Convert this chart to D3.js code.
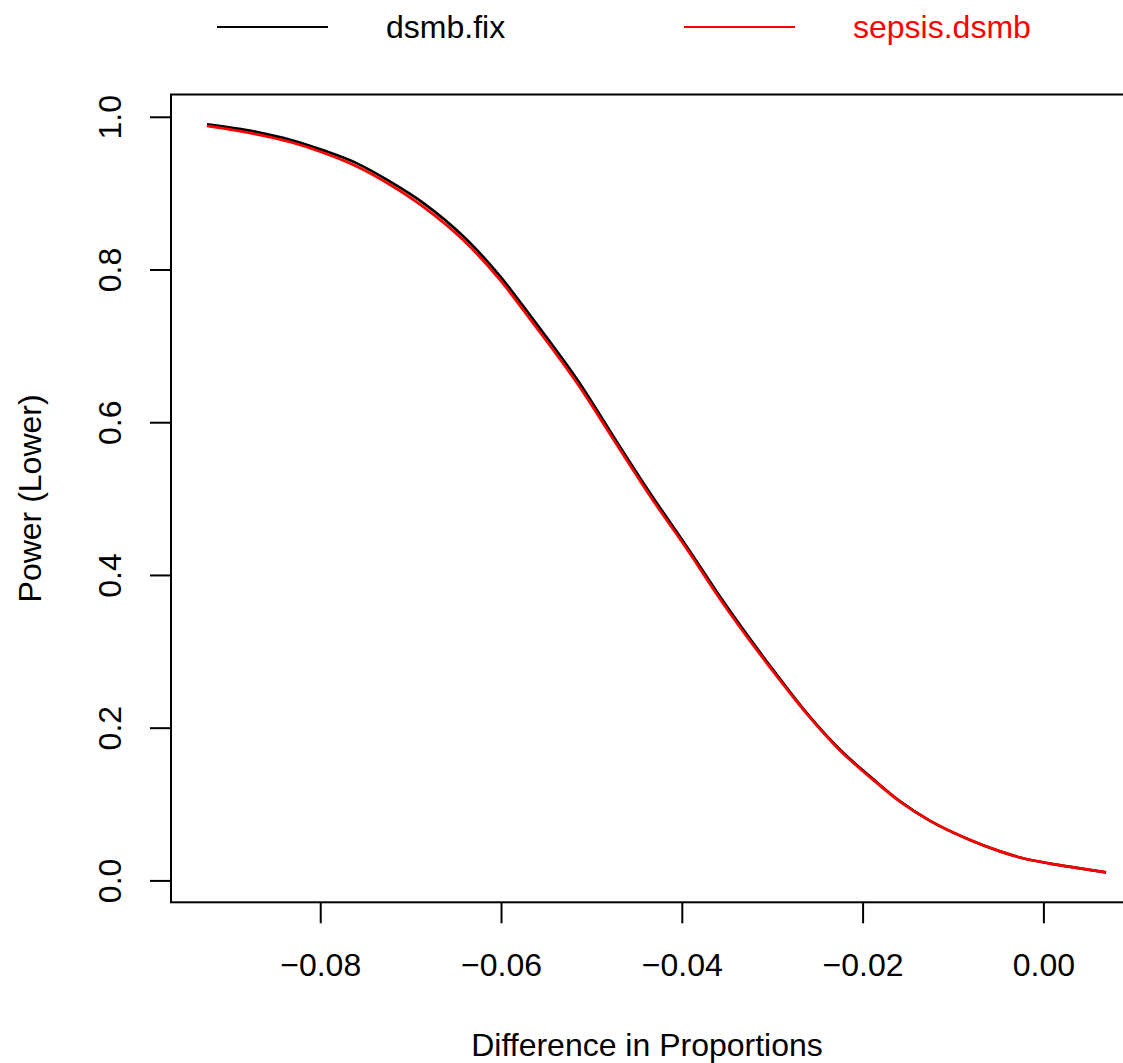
<!DOCTYPE html>
<html lang="en">
<head>
<meta charset="utf-8">
<title>Power (Lower) vs difference in proportions</title>
<script src="https://cdn.jsdelivr.net/npm/d3@7"></script>
<style>
  body { margin: 0; background: #fff; }
  text { font-family: "Liberation Sans", Arial, sans-serif; }
</style>
</head>
<body>
<script>
// values
var diffs = [-0.09253, -0.08700, -0.08332, -0.07964, -0.07594, -0.07226, -0.06858,
             -0.06378, -0.06009, -0.05641, -0.05124, -0.04760, -0.04350, -0.03950,
             -0.03557, -0.02986, -0.02617, -0.02249, -0.01887, -0.01585, -0.01253,
             -0.00811, -0.00479, -0.00258, 0.00074, 0.00406, 0.00693];
var powerFix = [0.990, 0.980, 0.970, 0.956, 0.939, 0.915, 0.887,
                0.839, 0.791, 0.734, 0.650, 0.582, 0.507, 0.438,
                0.368, 0.275, 0.219, 0.171, 0.133, 0.1035, 0.078,
                0.053, 0.038, 0.030, 0.022, 0.0157, 0.0105];
var powerSepsis = [0.988, 0.977, 0.967, 0.953, 0.935, 0.911, 0.882,
                   0.834, 0.786, 0.729, 0.645, 0.578, 0.503, 0.435,
                   0.365, 0.273, 0.218, 0.170, 0.132, 0.103, 0.078,
                   0.053, 0.038, 0.030, 0.022, 0.0157, 0.0105];
var seriesNames = ["dsmb.fix", "sepsis.dsmb"];
var seriesColors = ["#000000", "#ff0000"];
var xTicks = [-0.08, -0.06, -0.04, -0.02, 0.00];
var yTicks = [0.0, 0.2, 0.4, 0.6, 0.8, 1.0];

var W = 1123, H = 1063;
var plotLeft = 171, plotRight = 1142, plotTop = 94.5, plotBottom = 902.3;
var fs = 32;

var svg = d3.select("body").append("svg").attr("width", W).attr("height", H);

// R-style 4% padding around the data range
var xr = d3.extent(diffs), yr = [0.0105, 0.990];
var xpad = (xr[1] - xr[0]) * 0.04, ypad = (yr[1] - yr[0]) * 0.04;
var x = d3.scaleLinear().domain([xr[0] - xpad, xr[1] + xpad]).range([plotLeft, plotRight]);
var y = d3.scaleLinear().domain([yr[0] - ypad, yr[1] + ypad]).range([plotBottom, plotTop]);

// curves
var line = d3.line()
  .x(function(d) { return x(d[0]); })
  .y(function(d) { return y(d[1]); })
  .curve(d3.curveMonotoneX);

var series = [powerFix, powerSepsis];
series.forEach(function(vals, i) {
  svg.append("path")
    .datum(diffs.map(function(dx, j) { return [dx, vals[j]]; }))
    .attr("d", line)
    .attr("fill", "none")
    .attr("stroke", seriesColors[i])
    .attr("stroke-width", 2.7)
    .attr("stroke-linejoin", "round");
});

// box
svg.append("rect")
  .attr("x", plotLeft).attr("y", plotTop)
  .attr("width", plotRight - plotLeft).attr("height", plotBottom - plotTop)
  .attr("fill", "none").attr("stroke", "#000").attr("stroke-width", 2);

// x axis
var xAxis = svg.append("g")
  .attr("transform", "translate(0," + plotBottom + ")")
  .call(d3.axisBottom(x).tickValues(xTicks).tickFormat(d3.format(".2f"))
        .tickSize(21).tickSizeOuter(0).tickPadding(0));
xAxis.select(".domain").remove();
xAxis.selectAll(".tick line").attr("stroke", "#000").attr("stroke-width", 2);
xAxis.selectAll(".tick text")
  .attr("y", 63).attr("dy", "0.35em")
  .attr("font-size", fs).attr("fill", "#000")
  .style("font-family", "Liberation Sans, Arial, sans-serif");

// y axis
var yAxis = svg.append("g")
  .attr("transform", "translate(" + plotLeft + ",0)")
  .call(d3.axisLeft(y).tickValues(yTicks).tickFormat(d3.format(".1f"))
        .tickSize(21).tickSizeOuter(0));
yAxis.select(".domain").remove();
yAxis.selectAll(".tick line").attr("stroke", "#000").attr("stroke-width", 2);
yAxis.selectAll(".tick text")
  .attr("x", null)
  .attr("transform", "translate(-61,0) rotate(-90)")
  .attr("text-anchor", "middle").attr("dy", "0.35em")
  .attr("font-size", fs).attr("fill", "#000")
  .style("font-family", "Liberation Sans, Arial, sans-serif");

// axis titles
svg.append("text")
  .attr("x", (plotLeft + W) / 2).attr("y", 1045).attr("dy", "0.35em")
  .attr("text-anchor", "middle").attr("font-size", fs)
  .text("Difference in Proportions");

svg.append("text")
  .attr("transform", "translate(30," + ((plotTop + plotBottom) / 2) + ") rotate(-90)")
  .attr("dy", "0.35em")
  .attr("text-anchor", "middle").attr("font-size", fs)
  .text("Power (Lower)");

// legend (horizontal, above the box)
var legX = [217, 684];
var legY = 27;
seriesNames.forEach(function(name, i) {
  svg.append("line")
    .attr("x1", legX[i]).attr("x2", legX[i] + 111)
    .attr("y1", legY).attr("y2", legY)
    .attr("stroke", seriesColors[i]).attr("stroke-width", 2);
  svg.append("text")
    .attr("x", legX[i] + 169).attr("y", legY).attr("dy", "0.35em")
    .attr("font-size", fs).attr("fill", seriesColors[i])
    .text(name);
});
</script>
</body>
</html>
